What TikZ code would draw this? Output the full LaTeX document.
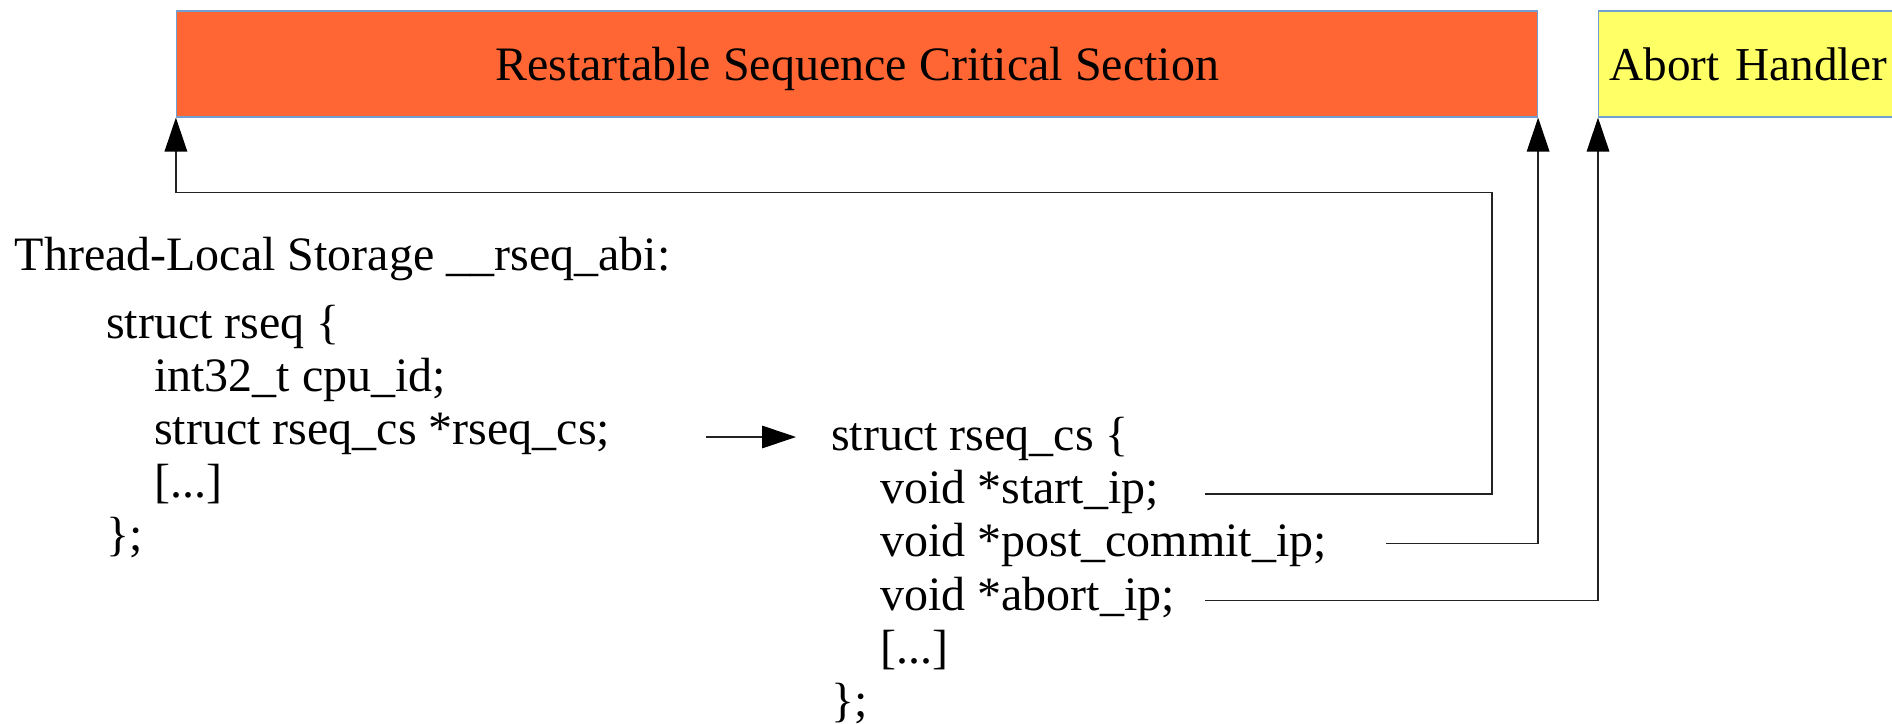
\documentclass[tikz,border=0pt]{standalone}
\usepackage{fontspec}
\setmainfont{Liberation Serif}
\usetikzlibrary{arrows.meta}
\definecolor{critred}{HTML}{FF6633}
\definecolor{abortyel}{HTML}{FFFF66}
\definecolor{boxedge}{HTML}{729FCF}
\definecolor{wire}{HTML}{222222}
\begin{document}
\begin{tikzpicture}[x=1pt,y=-1pt,
  txt/.style={inner sep=0pt, anchor=base west, font=\fontsize{48pt}{53pt}\selectfont},
  bigbox/.style={draw=boxedge, line width=1.2pt, inner sep=0pt, minimum height=106pt,
    text height=32pt, text depth=0pt, font=\fontsize{48pt}{53pt}\selectfont},
  wirearrow/.style={draw=wire, line width=1.3pt, -{Triangle[length=34pt,width=22.6pt,color=black]}}
]
\useasboundingbox (0,0) rectangle (1892,723);
\clip (0,0) rectangle (1892,723);

% boxes
\node[bigbox, fill=critred, minimum width=1361pt] (rcs) at (857,64) {Restartable Sequence Critical Section};
\node[bigbox, fill=abortyel, anchor=west, text width=300pt, align=left, inner xsep=11pt,
  font=\fontsize{47.2pt}{53pt}\selectfont] (ah) at (1598,64) {Abort Handler};

% left block
\node[txt] (tls) at (14.5,270) {Thread-Local Storage \_\_rseq\_abi:};
\node[txt] (rseq) at (106,338) {struct rseq \{};
\node[txt] (cpu) at (154,391) {int32\_t cpu\_id;};
\node[txt] (rseqcs) at (154,444) {struct rseq\_cs *rseq\_cs;};
\node[txt] (dotsA) at (154,497) {[...]};
\node[txt] (closeA) at (106,550) {\};};

% right block
\node[txt] (csdecl) at (831,450) {struct rseq\_cs \{};
\node[txt] (startip) at (880,503) {void *start\_ip;};
\node[txt] (postip) at (880,556.5) {void *post\_commit\_ip;};
\node[txt] (abortip) at (880,610) {void *abort\_ip;};
\node[txt] (dotsB) at (880,663) {[...]};
\node[txt] (closeB) at (831,716) {\};};

% connector end points
\coordinate (ptrfrom) at (706,437);
\coordinate (ptrto) at (796,437);
\coordinate (sfrom) at (1205,494);
\coordinate (sturn) at (1492,192.5);
\coordinate (pfrom) at (1386,543.5);
\coordinate (afrom) at (1205,600.7);

% connectors
\draw[wirearrow] (ptrfrom) -- (ptrto);
\draw[wirearrow] (sfrom) -| (sturn) -| (rcs.south west);
\draw[wirearrow] (pfrom) -| (rcs.south east);
\draw[wirearrow] (afrom) -| (ah.south west);
\end{tikzpicture}
\end{document}
